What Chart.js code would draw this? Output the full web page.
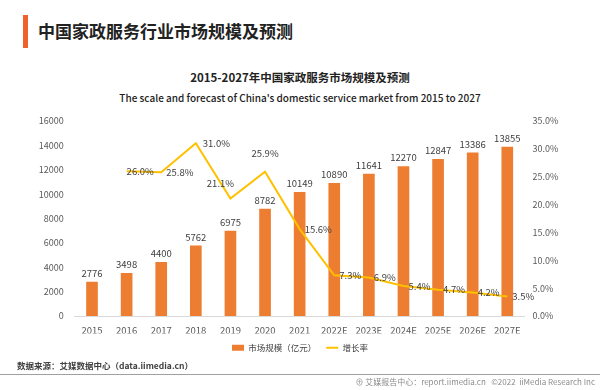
<!DOCTYPE html>
<html>
<head>
<meta charset="utf-8">
<script src="https://cdn.jsdelivr.net/npm/chart.js@4.4.1/dist/chart.umd.min.js"></script>
<style>
  body { margin: 0; width: 600px; height: 390px; background: #fff; position: relative; overflow: hidden;
         font-family: "Noto Sans CJK SC", "Noto Sans", sans-serif; }
  #bar { position: absolute; left: 23px; top: 15px; width: 5px; height: 33px; background: #f0622d; }
  #head { position: absolute; left: 38px; top: 19px; font-size: 17px; font-weight: bold; color: #222; line-height: 24px; }
  #title { position: absolute; left: 0; width: 600px; top: 68px; text-align: center; font-size: 11.5px; font-weight: bold; color: #222; line-height: 18px; }
  #sub { position: absolute; left: 0; width: 600px; top: 89px; text-align: center; font-size: 10px; font-weight: 500; color: #222; line-height: 18px; }
  #wrap { position: absolute; left: 0; top: 100px; width: 600px; height: 262px; }
  #src { position: absolute; left: 17px; top: 358px; font-size: 8.5px; font-weight: bold; color: #404040; line-height: 14px; }
  #rule { position: absolute; left: 0; top: 374px; width: 600px; height: 1px; background: #a0a0a0; }
  #foot { position: absolute; right: 5px; top: 375px; font-size: 8px; color: #8c8c8c; line-height: 13px; }
</style>
</head>
<body>
<div id="bar"></div>
<div id="head">中国家政服务行业市场规模及预测</div>
<div id="title">2015-2027年中国家政服务市场规模及预测</div>
<div id="sub">The scale and forecast of China's domestic service market from 2015 to 2027</div>
<div id="wrap"><canvas id="mycanvas" width="600" height="262"></canvas></div>
<div id="src">数据来源：艾媒数据中心（data.iimedia.cn）</div>
<div id="rule"></div>
<div id="foot">⊕ 艾媒报告中心：report.iimedia.cn&nbsp;&nbsp;&nbsp;©2022&nbsp;&nbsp;iiMedia Research Inc</div>
<script>
var years = ['2015', '2016', '2017', '2018', '2019', '2020', '2021', '2022E', '2023E', '2024E', '2025E', '2026E', '2027E'];
var marketSize = [2776, 3498, 4400, 5762, 6975, 8782, 10149, 10890, 11641, 12270, 12847, 13386, 13855]; // 亿元
var growthRate = [null, 26.0, 25.8, 31.0, 21.1, 25.9, 15.6, 7.3, 6.9, 5.4, 4.7, 4.2, 3.5]; // %
var sizeTicks = { max: 16000, step: 2000 };
var rateTicks = { max: 35, step: 5 };

var FONT = '"Noto Sans CJK SC", "Noto Sans", sans-serif';

// value labels drawn on top of bars and next to line points
var valueLabels = {
  id: 'valueLabels',
  afterDatasetsDraw: function(chart) {
    var ctx = chart.ctx;
    ctx.save();
    ctx.font = '9.5px ' + FONT;
    ctx.fillStyle = '#404040';

    var bars = chart.getDatasetMeta(0).data;
    ctx.textAlign = 'center';
    ctx.textBaseline = 'bottom';
    bars.forEach(function(b, i) {
      ctx.fillText(marketSize[i], b.x, b.y - 4);
    });

    var pts = chart.getDatasetMeta(1).data;
    ctx.textBaseline = 'middle';
    pts.forEach(function(p, i) {
      if (growthRate[i] === null) return;
      var txt = growthRate[i].toFixed(1) + '%';
      var x = p.x + 5, y = p.y, align = 'left';
      if (i == 1) { x = p.x; }
      if (i == 3) { x = p.x + 7; }
      if (i == 4) { x = p.x - 10; y = p.y - 15; align = 'center'; }
      if (i == 5) { x = p.x; y = p.y - 18; align = 'center'; }
      ctx.textAlign = align;
      ctx.fillText(txt, x, y);
    });
    ctx.restore();
  }
};

var ctx = document.getElementById('mycanvas');

var chart = new Chart(ctx, {
  data: {
    labels: years,
    datasets: [
      {
        type: 'bar',
        label: '市场规模（亿元）',
        data: marketSize,
        backgroundColor: '#ed7d31',
        borderWidth: 0,
        barThickness: 11,
        yAxisID: 'y',
        order: 2,
        pointStyle: 'rect'
      },
      {
        type: 'line',
        label: '增长率',
        data: growthRate,
        borderColor: '#ffc000',
        backgroundColor: '#ffc000',
        borderWidth: 2,
        pointRadius: 0,
        tension: 0,
        yAxisID: 'y1',
        order: 1,
        pointStyle: 'line'
      }
    ]
  },
  options: {
    responsive: false,
    animation: false,
    devicePixelRatio: 1,
    layout: { padding: { top: 21, left: 0, right: 0, bottom: 0 } },
    plugins: {
      tooltip: { enabled: false },
      legend: {
        position: 'bottom',
        labels: {
          usePointStyle: true,
          pointStyleWidth: 12,
          boxHeight: 6,
          padding: 10,
          color: '#404040',
          font: { family: FONT, size: 8.5 },
          sort: function(a, b) { return a.datasetIndex - b.datasetIndex; }
        }
      }
    },
    scales: {
      x: {
        grid: { display: false, drawTicks: false },
        border: { display: true, color: '#d9d9d9' },
        ticks: { color: '#595959', font: { family: FONT, size: 9.5 }, padding: 9, maxRotation: 0, autoSkip: false },
        afterFit: function(s) { s.height = 17.5; }
      },
      y: {
        position: 'left',
        min: 0,
        max: sizeTicks.max,
        grid: { display: false, drawTicks: false },
        border: { display: false },
        ticks: {
          stepSize: sizeTicks.step, color: '#595959', font: { family: FONT, size: 9 }, padding: 11,
          callback: function(v) { return String(v); }
        },
        afterFit: function(s) { s.width = 74.7; }
      },
      y1: {
        position: 'right',
        min: 0,
        max: rateTicks.max,
        grid: { display: false, drawTicks: false },
        border: { display: false },
        ticks: {
          stepSize: rateTicks.step, color: '#595959', font: { family: FONT, size: 9 }, padding: 8,
          callback: function(v) { return v.toFixed(1) + '%'; }
        },
        afterFit: function(s) { s.width = 75.4; }
      }
    }
  },
  plugins: [valueLabels]
});
</script>
</body>
</html>
